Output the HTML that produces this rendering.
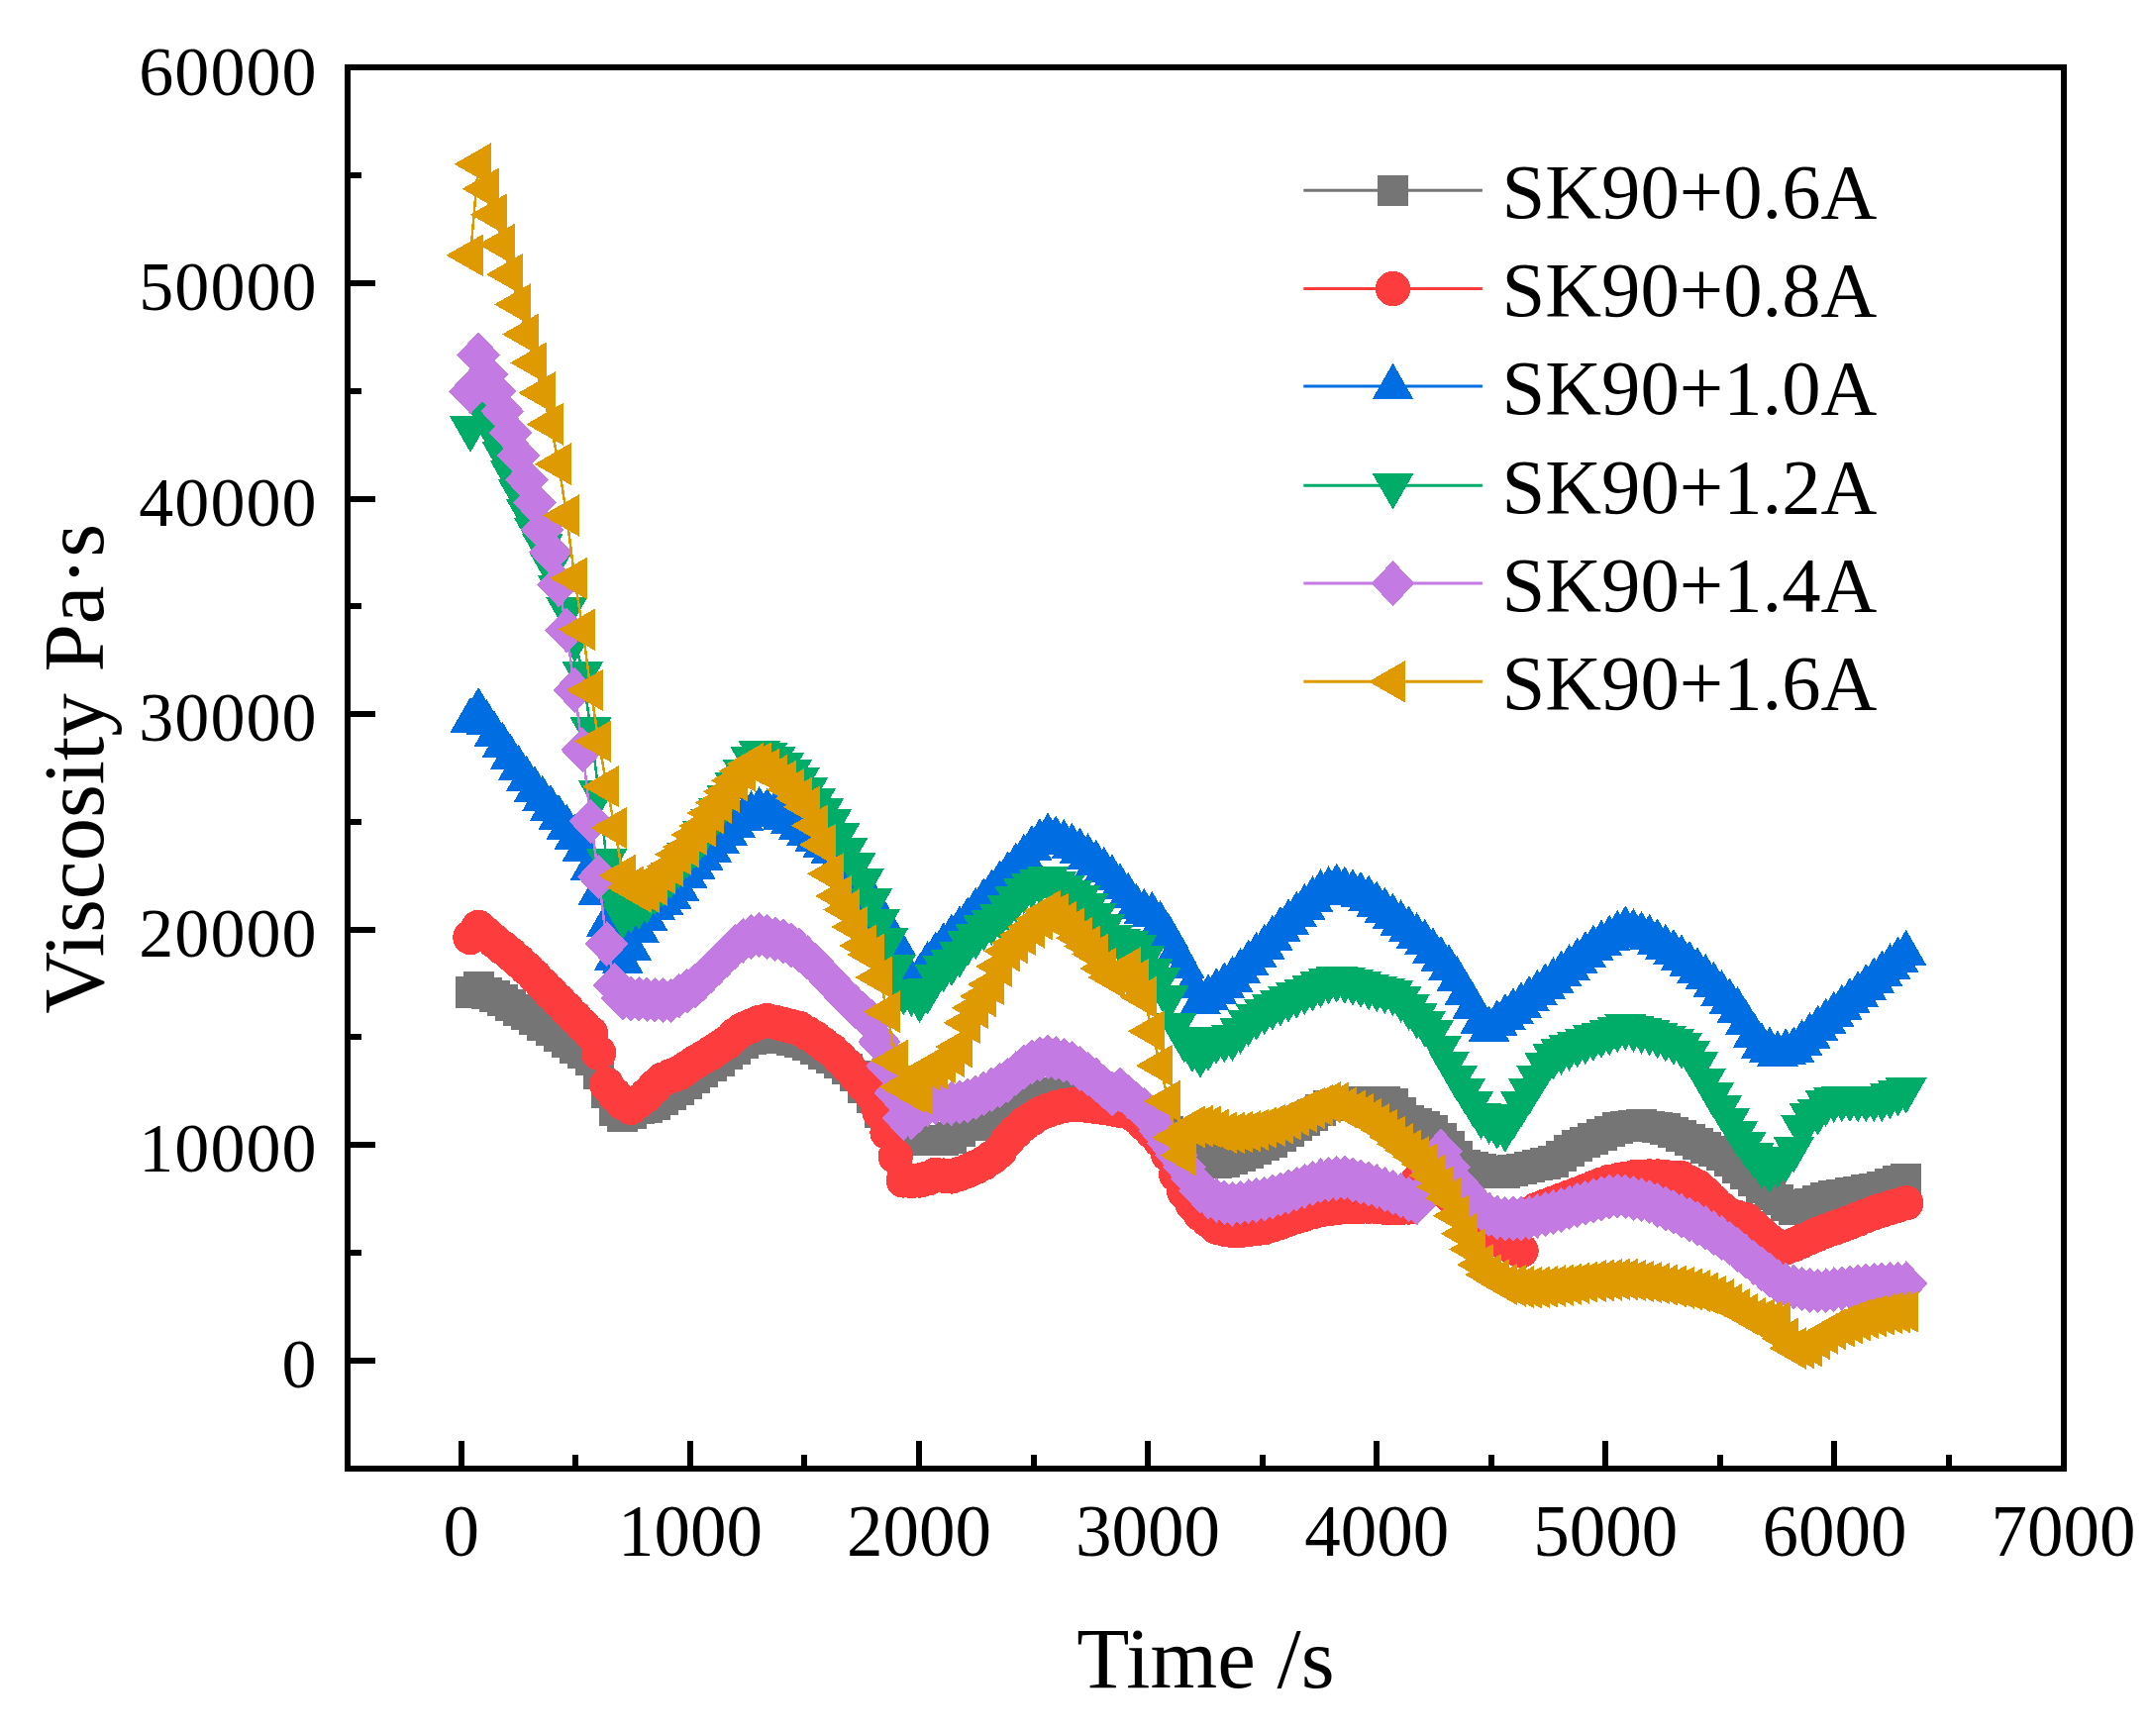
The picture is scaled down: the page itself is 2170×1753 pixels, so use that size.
<!DOCTYPE html>
<html lang="en">
<head>
<meta charset="utf-8">
<title>Viscosity vs Time</title>
<style>
html,body{margin:0;padding:0;background:#fff;}
body{width:2170px;height:1753px;overflow:hidden;}
svg{display:block;}
text{font-family:"Liberation Serif",serif;fill:#000;}
.tk{font-size:73px;}
.ty{font-size:70px;letter-spacing:1.1px;}
.tt{font-size:87px;}
.lg{font-size:78.7px;}
.ax{stroke:#000;stroke-width:6;fill:none;}
</style>
</head>
<body>
<svg width="2170" height="1753" viewBox="0 0 2170 1753" shape-rendering="crispEdges">
<rect width="2170" height="1753" fill="#fff"/>
<defs>
<marker id="m-gray" markerUnits="userSpaceOnUse" markerWidth="60" markerHeight="60" refX="0" refY="0" viewBox="-30 -30 60 60" orient="0" overflow="visible"><g fill="#757575" stroke="none"><rect x="-15.5" y="-15.8" width="31" height="31.6"/></g></marker>
<marker id="m-red" markerUnits="userSpaceOnUse" markerWidth="60" markerHeight="60" refX="0" refY="0" viewBox="-30 -30 60 60" orient="0" overflow="visible"><g fill="#FD3D3D" stroke="none"><circle r="17.7"/></g></marker>
<marker id="m-blue" markerUnits="userSpaceOnUse" markerWidth="60" markerHeight="60" refX="0" refY="0" viewBox="-30 -30 60 60" orient="0" overflow="visible"><g fill="#006EE3" stroke="none"><path d="M0-23.4 21 13.2H-21Z"/></g></marker>
<marker id="m-green" markerUnits="userSpaceOnUse" markerWidth="60" markerHeight="60" refX="0" refY="0" viewBox="-30 -30 60 60" orient="0" overflow="visible"><g fill="#00AD68" stroke="none"><path d="M0 24.3 21-12.3H-21Z"/></g></marker>
<marker id="m-purple" markerUnits="userSpaceOnUse" markerWidth="60" markerHeight="60" refX="0" refY="0" viewBox="-30 -30 60 60" orient="0" overflow="visible"><g fill="#C37AE2" stroke="none"><path d="M0-22.9 21.9 0 0 22.9-21.9 0Z"/></g></marker>
<marker id="m-orange" markerUnits="userSpaceOnUse" markerWidth="60" markerHeight="60" refX="0" refY="0" viewBox="-30 -30 60 60" orient="0" overflow="visible"><g fill="#DE9A00" stroke="none"><path d="M-24.6 0 12.6-21.3V21.3Z"/></g></marker>
</defs>
<g fill="none" stroke-width="2.5" stroke-linejoin="round">
<polyline stroke="#757575" marker-start="url(#m-gray)" marker-mid="url(#m-gray)" marker-end="url(#m-gray)" points="475,1002 483.1,996.7 491.2,1002.8 499.3,1006.3 507.4,1010.3 515.5,1015 523.6,1020.1 531.7,1024.5 539.8,1029.7 547.9,1034.8 556,1040 564.1,1046.1 572.2,1052.1 580.3,1058.2 588.4,1063.3 596.5,1070.3 604.6,1084.1 612.7,1103.1 620.8,1121.2 628.9,1127.3 637,1124.7 645.1,1119.5 653.2,1118.6 661.3,1115.2 669.4,1110 677.5,1105.7 685.6,1100.5 693.7,1094.5 701.8,1088.4 709.9,1082.3 718,1076.2 726.1,1071 734.2,1064.1 742.3,1058.9 750.4,1053.7 758.5,1049.4 766.6,1048.6 774.7,1047.6 782.8,1047.4 790.9,1047.8 799,1049.9 807.1,1052 815.2,1055.4 823.3,1058.9 831.4,1064.1 839.5,1068.4 847.6,1073.6 855.7,1079.6 863.8,1086.6 871.9,1098.7 880,1108.5 888,1123 896.1,1136 904.2,1145.5 912.3,1150 920.4,1151.5 928.5,1151.5 936.6,1151.5 944.7,1151.5 952.8,1151.4 960.9,1148.8 969,1141.9 977.1,1136.7 985.2,1136.1 993.3,1135.5 1001.4,1134.2 1009.5,1129.5 1017.6,1124.9 1025.7,1120.2 1033.8,1115.5 1041.9,1111.4 1050,1108.7 1058.1,1106 1066.2,1103.3 1074.3,1102.6 1082.4,1103.9 1090.5,1105.1 1098.6,1106.3 1106.7,1107.5 1114.8,1109.7 1122.9,1112.5 1131,1115.4 1139.1,1118.2 1147.2,1121 1155.3,1125.7 1163.4,1131.4 1171.5,1137.1 1179.6,1142.7 1187.7,1148.4 1195.8,1154.6 1203.9,1161.1 1212,1167.6 1220.1,1171.5 1228.2,1173.9 1236.3,1173.5 1244.4,1170.7 1252.5,1167.7 1260.6,1164 1268.7,1160.3 1276.8,1156.6 1284.9,1152.8 1293,1147.4 1301.1,1142 1309.2,1136.6 1317.3,1131.2 1325.4,1126.2 1333.5,1121.2 1341.6,1116.7 1349.7,1115.7 1357.8,1114.8 1365.9,1113.8 1374,1112.8 1382.1,1112.9 1390.2,1113.1 1398.3,1113.2 1406.4,1115 1414.5,1123.5 1422.6,1131.5 1430.7,1134.6 1438.8,1137.6 1446.9,1141.8 1455,1149.9 1463.1,1158.1 1471.2,1167.5 1479.3,1176.9 1487.4,1179.1 1495.5,1180.8 1503.6,1182.5 1511.7,1184.3 1519.8,1183.9 1527.9,1182.1 1536,1180.3 1544.1,1178.5 1552.2,1176.7 1560.3,1174.9 1568.4,1173.1 1576.5,1167.6 1584.6,1162 1592.7,1156.8 1600.8,1153.3 1608.9,1149.8 1617,1146.2 1625.1,1142.7 1633.2,1139.1 1641.3,1137.6 1649.4,1136.4 1657.5,1136 1665.6,1137.4 1673.7,1138.7 1681.8,1140.2 1689.9,1143.4 1697.9,1146.8 1706,1150.9 1714.1,1154.9 1722.2,1158.8 1730.3,1162.7 1738.4,1166.6 1746.5,1172.7 1754.6,1178.8 1762.7,1185.1 1770.8,1192.2 1778.9,1199.4 1787,1206.6 1795.1,1211.7 1803.2,1216.8 1811.3,1220.9 1819.4,1218.1 1827.5,1215.4 1835.6,1212.7 1843.7,1210 1851.8,1207.5 1859.9,1206.4 1868,1205.2 1876.1,1203.7 1884.2,1202.1 1892.3,1200.5 1900.4,1198.7 1908.5,1195.7 1916.6,1192.6 1924.7,1190.4"/>
<polyline stroke="#FD3D3D" marker-start="url(#m-red)" marker-mid="url(#m-red)" marker-end="url(#m-red)" points="475,946.5 483.1,936.5 491.2,943.5 499.3,950.5 507.4,956.9 515.5,963.4 523.6,970.5 531.7,977.8 539.8,985.7 547.9,994 556,1002.3 564.1,1010.6 572.2,1018.8 580.3,1027.1 588.4,1035.4 596.5,1043.4 604.6,1063.3 612.7,1095.3 620.8,1105.6 628.9,1113.4 637,1118.2 645.1,1112 653.2,1105.6 661.3,1097 669.4,1090 677.5,1086.5 685.6,1083.5 693.7,1078.2 701.8,1073 709.9,1068.1 718,1063.2 726.1,1057.9 734.2,1052.6 742.3,1045 750.4,1039.3 758.5,1035.9 766.6,1032.6 774.7,1030.5 782.8,1032.4 790.9,1034.4 799,1036.3 807.1,1038.5 815.2,1043.4 823.3,1048.2 831.4,1054.3 839.5,1060.3 847.6,1068.1 855.7,1076.2 863.8,1085.6 871.9,1095.5 880,1105 888,1122.8 896.1,1143.5 904.2,1167.7 912.3,1191.9 920.4,1192.5 928.5,1192 936.6,1190 944.7,1186.3 952.8,1187.1 960.9,1187.9 969,1185.4 977.1,1182.4 985.2,1178.6 993.3,1174.5 1001.4,1169 1009.5,1162.5 1017.6,1151.4 1025.7,1142.7 1033.8,1135.3 1041.9,1129.7 1050,1124.5 1058.1,1121.4 1066.2,1118.7 1074.3,1116.4 1082.4,1115.7 1090.5,1115.4 1098.6,1116.5 1106.7,1117.6 1114.8,1118.7 1122.9,1119.9 1131,1121.3 1139.1,1122.7 1147.2,1127.4 1155.3,1134.8 1163.4,1142.7 1171.5,1151.6 1179.6,1165.7 1187.7,1186 1195.8,1203.6 1203.9,1215.6 1212,1225.7 1220.1,1232.4 1228.2,1239.1 1236.3,1241.1 1244.4,1242.4 1252.5,1242.5 1260.6,1241.5 1268.7,1240.6 1276.8,1239.6 1284.9,1237 1293,1234.2 1301.1,1231.3 1309.2,1228.7 1317.3,1226.3 1325.4,1223.9 1333.5,1221.8 1341.6,1220.7 1349.7,1219.7 1357.8,1218.6 1365.9,1218.4 1374,1218.2 1382.1,1218.1 1390.2,1218.4 1398.3,1219.2 1406.4,1219.7 1414.5,1219.5 1422.6,1219 1430.7,1193.8 1438.8,1190 1446.9,1194 1455,1198 1463.1,1206 1471.2,1216 1479.3,1226.5 1487.4,1232 1495.5,1237.5 1503.6,1243 1511.7,1250 1519.8,1255.3 1527.9,1260 1536,1263 1544.1,1225.7 1552.2,1221.2 1560.3,1218.1 1568.4,1215.1 1576.5,1212 1584.6,1209 1592.7,1206 1600.8,1202.8 1608.9,1199.5 1617,1196.2 1625.1,1193.4 1633.2,1191.9 1641.3,1190.3 1649.4,1188.8 1657.5,1188.4 1665.6,1188 1673.7,1188 1681.8,1188.6 1689.9,1189.2 1697.9,1189.8 1706,1194 1714.1,1198.4 1722.2,1205.2 1730.3,1213.5 1738.4,1221 1746.5,1227.1 1754.6,1229.3 1762.7,1231.4 1770.8,1238.7 1778.9,1246.3 1787,1253.2 1795.1,1258.1 1803.2,1259.9 1811.3,1256.9 1819.4,1253.4 1827.5,1249.8 1835.6,1246.3 1843.7,1243.1 1851.8,1240.2 1859.9,1237.3 1868,1234.3 1876.1,1231.1 1884.2,1227.9 1892.3,1224.7 1900.4,1222.1 1908.5,1219.6 1916.6,1217.1 1924.7,1214.8"/>
<polyline stroke="#006EE3" marker-start="url(#m-blue)" marker-mid="url(#m-blue)" marker-end="url(#m-blue)" points="475,727.3 483.1,717.2 491.2,729 499.3,741.1 507.4,752.1 515.5,764.2 523.6,775.1 531.7,786.1 539.8,796.4 547.9,806.2 556,815.4 564.1,825.2 572.2,835 580.3,844.8 588.4,856.9 596.5,876 604.6,900.5 612.7,932.8 620.8,966.6 628.9,970 637,956.6 645.1,939.3 653.2,926.4 661.3,916 669.4,910.8 677.5,904.8 685.6,897 693.7,883.9 701.8,874.9 709.9,866 718,857.4 726.1,849 734.2,840.9 742.3,833 750.4,826.1 758.5,821.5 766.6,817.5 774.7,819.1 782.8,820.9 790.9,824.7 799,828.5 807.1,834.4 815.2,840.4 823.3,846.7 831.4,853 839.5,858.6 847.6,867.5 855.7,876.3 863.8,885.2 871.9,895.2 880,908.7 888,923.5 896.1,946.8 904.2,951.8 912.3,976.8 920.4,995.3 928.5,986.2 936.6,973.4 944.7,964 952.8,954.5 960.9,946 969,937.9 977.1,928.9 985.2,919.1 993.3,909.7 1001.4,900.9 1009.5,891.9 1017.6,883 1025.7,874.1 1033.8,865.2 1041.9,856.3 1050,849.3 1058.1,843.7 1066.2,846.8 1074.3,850.1 1082.4,854.1 1090.5,859 1098.6,864.6 1106.7,870.9 1114.8,878.2 1122.9,885.8 1131,894.8 1139.1,904 1147.2,914.8 1155.3,920.2 1163.4,923.3 1171.5,932.4 1179.6,944.8 1187.7,960.3 1195.8,975.3 1203.9,995 1212,1011 1220.1,1006.6 1228.2,1000.5 1236.3,994.8 1244.4,988.4 1252.5,980.3 1260.6,972.2 1268.7,964.1 1276.8,956 1284.9,947.1 1293,938.2 1301.1,930.7 1309.2,923.1 1317.3,915.4 1325.4,907.7 1333.5,900.8 1341.6,897.7 1349.7,894.9 1357.8,897.7 1365.9,900.5 1374,903.2 1382.1,906.9 1390.2,912.9 1398.3,919 1406.4,925.1 1414.5,931.5 1422.6,938 1430.7,944.5 1438.8,951.2 1446.9,959.7 1455,968.2 1463.1,976.7 1471.2,988.3 1479.3,1002 1487.4,1015.7 1495.5,1030.4 1503.6,1038.8 1511.7,1032.7 1519.8,1026.6 1527.9,1020.5 1536,1014.4 1544.1,1008.3 1552.2,1002.3 1560.3,995.8 1568.4,989.4 1576.5,982.9 1584.6,976.4 1592.7,970 1600.8,963.5 1608.9,957 1617,951.9 1625.1,947 1633.2,942.1 1641.3,937.8 1649.4,940.6 1657.5,943.4 1665.6,946.2 1673.7,950.8 1681.8,956 1689.9,961.3 1697.9,966.7 1706,973.2 1714.1,979.7 1722.2,986.2 1730.3,993.9 1738.4,1002.4 1746.5,1010.9 1754.6,1019.5 1762.7,1032.1 1770.8,1044.7 1778.9,1055.8 1787,1059.9 1795.1,1063.7 1803.2,1061.6 1811.3,1059.6 1819.4,1052.7 1827.5,1045.4 1835.6,1038.1 1843.7,1031 1851.8,1024.1 1859.9,1017.2 1868,1010.3 1876.1,1003.5 1884.2,996.6 1892.3,989.7 1900.4,982.8 1908.5,975.8 1916.6,968.8 1924.7,962.1"/>
<polyline stroke="#00AD68" marker-start="url(#m-green)" marker-mid="url(#m-green)" marker-end="url(#m-green)" points="475,432.6 483.1,405 491.2,420 499.3,439 507.4,458 515.5,477 523.6,496.2 531.7,516 539.8,535 547.9,551 556,571.3 564.1,593.8 572.2,615.4 580.3,645 588.4,680.2 596.5,736.8 604.6,800.1 612.7,869.2 620.8,905 628.9,924.4 637,918.3 645.1,914.9 653.2,908.8 661.3,900.3 669.4,891.9 677.5,883.4 685.6,873.5 693.7,863.3 701.8,853.2 709.9,841.5 718,829.8 726.1,818.1 734.2,805.2 742.3,792 750.4,778.9 758.5,766.7 766.6,760.7 774.7,762 782.8,765.9 790.9,772.8 799,779.7 807.1,786.9 815.2,797.6 823.3,808.1 831.4,818.1 839.5,828.9 847.6,843.4 855.7,858 863.8,872.9 871.9,889.2 880,909.8 888,930.3 896.1,949.8 904.2,976 912.3,1001.2 920.4,1002.9 928.5,1008.9 936.6,1000.3 944.7,986.5 952.8,977.8 960.9,971.8 969,963.1 977.1,951.9 985.2,945 993.3,936.4 1001.4,931 1009.5,924.9 1017.6,916.3 1025.7,907.8 1033.8,899.3 1041.9,894 1050,890.2 1058.1,887.4 1066.2,892 1074.3,896.6 1082.4,901.2 1090.5,906.1 1098.6,914.1 1106.7,924.6 1114.8,935.8 1122.9,946.8 1131,950.1 1139.1,952.1 1147.2,956.4 1155.3,967.2 1163.4,980.4 1171.5,989.1 1179.6,1007.6 1187.7,1035 1195.8,1049.4 1203.9,1058.7 1212,1064.4 1220.1,1057.5 1228.2,1050.5 1236.3,1049.1 1244.4,1047.7 1252.5,1040.6 1260.6,1032.6 1268.7,1026.4 1276.8,1021 1284.9,1016.4 1293,1012.3 1301.1,1008.3 1309.2,1004.6 1317.3,1001 1325.4,997.4 1333.5,993.8 1341.6,990.2 1349.7,988.5 1357.8,989.6 1365.9,991.5 1374,993.8 1382.1,996 1390.2,998 1398.3,999.9 1406.4,1001.9 1414.5,1008.4 1422.6,1016.8 1430.7,1025.3 1438.8,1033.7 1446.9,1042.7 1455,1058.3 1463.1,1073.9 1471.2,1087.9 1479.3,1100.9 1487.4,1113.8 1495.5,1126.5 1503.6,1131.5 1511.7,1136.5 1519.8,1139.6 1527.9,1127.1 1536,1114.5 1544.1,1101.7 1552.2,1088.5 1560.3,1075.3 1568.4,1066.4 1576.5,1061.7 1584.6,1057.5 1592.7,1054.2 1600.8,1051 1608.9,1047.7 1617,1044.8 1625.1,1042 1633.2,1039.1 1641.3,1036.6 1649.4,1038.5 1657.5,1040.4 1665.6,1042.2 1673.7,1045.1 1681.8,1048.3 1689.9,1051.5 1697.9,1055.4 1706,1063.5 1714.1,1074.6 1722.2,1090.8 1730.3,1105.1 1738.4,1118.1 1746.5,1131 1754.6,1143.9 1762.7,1155 1770.8,1166.2 1778.9,1176.1 1787,1180.8 1795.1,1175.7 1803.2,1170 1811.3,1159.9 1819.4,1138.7 1827.5,1126.2 1835.6,1122.3 1843.7,1113.6 1851.8,1109.9 1859.9,1109 1868,1109 1876.1,1109 1884.2,1109 1892.3,1109 1900.4,1108.9 1908.5,1106 1916.6,1103.2 1924.7,1100.5"/>
<polyline stroke="#C37AE2" marker-start="url(#m-purple)" marker-mid="url(#m-purple)" marker-end="url(#m-purple)" points="475,395.2 483.1,358.3 491.2,377.9 499.3,395.2 507.4,415.4 515.5,437 523.6,460 531.7,484.5 539.8,507.5 547.9,534.9 556,557.9 564.1,590.3 572.2,636.4 580.3,696.9 588.4,757.4 596.5,829.4 604.6,885.5 612.7,953.2 620.8,995 628.9,1008 637,1008.4 645.1,1008.8 653.2,1009.2 661.3,1009.7 669.4,1010.1 677.5,1010.5 685.6,1005.6 693.7,1000.7 701.8,995.8 709.9,988.4 718,980.3 726.1,972.2 734.2,964.1 742.3,956 750.4,949.8 758.5,946 766.6,944 774.7,946.1 782.8,948.2 790.9,950.5 799,954.6 807.1,959.7 815.2,966.9 823.3,974.7 831.4,982.8 839.5,991.5 847.6,1000.4 855.7,1008.6 863.8,1016.5 871.9,1023.8 880,1031.2 888,1052 896.1,1076.1 904.2,1103.8 912.3,1129 920.4,1128.6 928.5,1120.8 936.6,1115.6 944.7,1113 952.8,1113.7 960.9,1114.3 969,1113 977.1,1111.5 985.2,1108.2 993.3,1104.4 1001.4,1100.3 1009.5,1096.1 1017.6,1090.8 1025.7,1084.2 1033.8,1077.6 1041.9,1072.7 1050,1069.6 1058.1,1067.2 1066.2,1068.9 1074.3,1070.7 1082.4,1073.6 1090.5,1079.1 1098.6,1084.5 1106.7,1090.4 1114.8,1097.8 1122.9,1104.6 1131,1100.3 1139.1,1107.3 1147.2,1114.1 1155.3,1120.8 1163.4,1130.4 1171.5,1142.4 1179.6,1154.4 1187.7,1166.4 1195.8,1178.5 1203.9,1190.5 1212,1202.5 1220.1,1208.4 1228.2,1212 1236.3,1214.2 1244.4,1215.8 1252.5,1214.5 1260.6,1213.3 1268.7,1212 1276.8,1210.8 1284.9,1208.5 1293,1206.1 1301.1,1203.6 1309.2,1200.9 1317.3,1197.9 1325.4,1195 1333.5,1192.3 1341.6,1191.1 1349.7,1189.9 1357.8,1189.3 1365.9,1191.4 1374,1193.4 1382.1,1195.5 1390.2,1198 1398.3,1201.1 1406.4,1204.1 1414.5,1207.3 1422.6,1210.9 1430.7,1214.5 1438.8,1203.2 1446.9,1182.5 1455,1162.6 1463.1,1178.4 1471.2,1193.9 1479.3,1203 1487.4,1212.1 1495.5,1220.5 1503.6,1226.4 1511.7,1229.5 1519.8,1230.7 1527.9,1230.6 1536,1230.5 1544.1,1229.9 1552.2,1228 1560.3,1226.1 1568.4,1224.2 1576.5,1221.9 1584.6,1219.4 1592.7,1217 1600.8,1214.7 1608.9,1212.6 1617,1210.4 1625.1,1208.6 1633.2,1207.7 1641.3,1208.3 1649.4,1209.9 1657.5,1211.5 1665.6,1213.5 1673.7,1217 1681.8,1220.4 1689.9,1223.9 1697.9,1227.7 1706,1231.5 1714.1,1235.4 1722.2,1239.9 1730.3,1245 1738.4,1250.1 1746.5,1255.5 1754.6,1262 1762.7,1268.5 1770.8,1275 1778.9,1281.2 1787,1287.5 1795.1,1293.8 1803.2,1297.5 1811.3,1299.5 1819.4,1301.5 1827.5,1303.1 1835.6,1303.5 1843.7,1303.2 1851.8,1302.1 1859.9,1301.1 1868,1300.1 1876.1,1299.3 1884.2,1298.5 1892.3,1297.6 1900.4,1297.3 1908.5,1296.9 1916.6,1296.5 1924.7,1296.2"/>
<polyline stroke="#DE9A00" marker-start="url(#m-orange)" marker-mid="url(#m-orange)" marker-end="url(#m-orange)" points="475,257.8 483.1,165.7 491.2,190.7 499.3,216.6 507.4,246.9 515.5,277.1 523.6,307.4 531.7,337.6 539.8,366.4 547.9,396.7 556,428.3 564.1,468.7 572.2,520.5 580.3,583.9 588.4,635.8 596.5,696.9 604.6,748.7 612.7,794.2 620.8,836 628.9,884.1 637,896 645.1,900.5 653.2,900.6 661.3,893.8 669.4,881.7 677.5,874.6 685.6,862.7 693.7,855.3 701.8,842.9 709.9,834 718,820.9 726.1,810.6 734.2,799.4 742.3,788.2 750.4,778.6 758.5,771.3 766.6,770.5 774.7,776.7 782.8,783 790.9,789.2 799,797.5 807.1,806.1 815.2,814.7 823.3,833.6 831.4,853 839.5,882.4 847.6,904.9 855.7,918.7 863.8,936 871.9,955 880,964 888,987 896.1,1021.7 904.2,1071 912.3,1097.7 920.4,1102 928.5,1104.4 936.6,1080 944.7,1079 952.8,1073 960.9,1066.4 969,1057 977.1,1032.8 985.2,1017.7 993.3,1006 1001.4,994 1009.5,975.9 1017.6,960.4 1025.7,952.3 1033.8,944.2 1041.9,936.2 1050,928.1 1058.1,920.2 1066.2,923.1 1074.3,931.2 1082.4,937.7 1090.5,947.3 1098.6,955.6 1106.7,963.7 1114.8,977.9 1122.9,986.9 1131,984.9 1139.1,977.6 1147.2,989.3 1155.3,1006.9 1163.4,1041.4 1171.5,1076.1 1179.6,1111.8 1187.7,1148.6 1195.8,1166.6 1203.9,1137.9 1212,1137.1 1220.1,1137.8 1228.2,1140.8 1236.3,1143.7 1244.4,1143.9 1252.5,1143.1 1260.6,1142.3 1268.7,1140.9 1276.8,1138.6 1284.9,1136.4 1293,1134 1301.1,1130.2 1309.2,1126.3 1317.3,1122.5 1325.4,1119.2 1333.5,1116.2 1341.6,1113.2 1349.7,1113.5 1357.8,1118.4 1365.9,1122 1374,1125.4 1382.1,1130.3 1390.2,1135.5 1398.3,1141.1 1406.4,1148 1414.5,1155.2 1422.6,1161.7 1430.7,1168.3 1438.8,1175.3 1446.9,1186.9 1455,1198.5 1463.1,1209.8 1471.2,1227.6 1479.3,1245.8 1487.4,1261.5 1495.5,1277 1503.6,1287.1 1511.7,1292.1 1519.8,1296.9 1527.9,1298.3 1536,1299.6 1544.1,1300.2 1552.2,1299.9 1560.3,1299.3 1568.4,1298.5 1576.5,1297.7 1584.6,1296.8 1592.7,1295.7 1600.8,1294.6 1608.9,1293.5 1617,1292.9 1625.1,1292.4 1633.2,1291.9 1641.3,1292 1649.4,1293 1657.5,1293.9 1665.6,1294.9 1673.7,1296.2 1681.8,1297.5 1689.9,1298.8 1697.9,1300.3 1706,1301.9 1714.1,1303.5 1722.2,1305.9 1730.3,1309.1 1738.4,1312.4 1746.5,1317.3 1754.6,1322.1 1762.7,1327 1770.8,1331.1 1778.9,1332.7 1787,1334.4 1795.1,1335.8 1803.2,1351.8 1811.3,1361.5 1819.4,1361.1 1827.5,1359.3 1835.6,1352.3 1843.7,1346.7 1851.8,1342.3 1859.9,1339.1 1868,1336.1 1876.1,1333.1 1884.2,1330.8 1892.3,1329.1 1900.4,1327.4 1908.5,1325.9 1916.6,1325.2 1924.7,1324.6"/>
</g>
<g class="ax">
<path d="M465.8 1483 v-28 M581.4 1483 v-14 M696.9 1483 v-28 M812.4 1483 v-14 M928 1483 v-28 M1043.5 1483 v-14 M1159.1 1483 v-28 M1274.6 1483 v-14 M1390.2 1483 v-28 M1505.8 1483 v-14 M1621.3 1483 v-28 M1736.8 1483 v-14 M1852.4 1483 v-28 M1967.9 1483 v-14 M351 1373.7 h28 M351 1264.9 h14 M351 1156.1 h28 M351 1047.4 h14 M351 938.6 h28 M351 829.8 h14 M351 721 h28 M351 612.2 h14 M351 503.5 h28 M351 394.7 h14 M351 285.9 h28 M351 177.1 h14"/>
<rect x="351" y="67.5" width="1732.5" height="1415.5"/>
</g>
<g class="tk" text-anchor="middle">
<text x="465.8" y="1570.5">0</text>
<text x="696.9" y="1570.5">1000</text>
<text x="928" y="1570.5">2000</text>
<text x="1159.1" y="1570.5">3000</text>
<text x="1390.2" y="1570.5">4000</text>
<text x="1621.3" y="1570.5">5000</text>
<text x="1852.4" y="1570.5">6000</text>
<text x="2083.5" y="1570.5">7000</text>
</g>
<g class="ty" text-anchor="end">
<text x="320.7" y="1400.9">0</text>
<text x="320.7" y="1183.3">10000</text>
<text x="320.7" y="965.8">20000</text>
<text x="320.7" y="748.2">30000</text>
<text x="320.7" y="530.7">40000</text>
<text x="320.7" y="313.1">50000</text>
<text x="320.7" y="95.5">60000</text>
</g>
<text class="tt" text-anchor="middle" x="1217.4" y="1704">Time /s</text>
<text class="tt" text-anchor="middle" transform="translate(104 776.3) rotate(-90)">Viscosity Pa·s</text>
<g>
<path d="M1316.3 192.3 H1496.9" stroke="#757575" stroke-width="3" fill="none" shape-rendering="geometricPrecision"/><g transform="translate(1406.5 192.3)" fill="#757575"><rect x="-15.5" y="-15.8" width="31" height="31.6"/></g><text class="lg" x="1516.5" y="219.8">SK90+0.6A</text>
<path d="M1316.3 291.5 H1496.9" stroke="#FD3D3D" stroke-width="3" fill="none" shape-rendering="geometricPrecision"/><g transform="translate(1406.5 291.5)" fill="#FD3D3D"><circle r="17.7"/></g><text class="lg" x="1516.5" y="319">SK90+0.8A</text>
<path d="M1316.3 390.1 H1496.9" stroke="#006EE3" stroke-width="3" fill="none" shape-rendering="geometricPrecision"/><g transform="translate(1406.5 390.1)" fill="#006EE3"><path d="M0-23.4 21 13.2H-21Z"/></g><text class="lg" x="1516.5" y="417.6">SK90+1.0A</text>
<path d="M1316.3 490.2 H1496.9" stroke="#00AD68" stroke-width="3" fill="none" shape-rendering="geometricPrecision"/><g transform="translate(1406.5 490.2)" fill="#00AD68"><path d="M0 24.3 21-12.3H-21Z"/></g><text class="lg" x="1516.5" y="517.7">SK90+1.2A</text>
<path d="M1316.3 589.1 H1496.9" stroke="#C37AE2" stroke-width="3" fill="none" shape-rendering="geometricPrecision"/><g transform="translate(1406.5 589.1)" fill="#C37AE2"><path d="M0-22.9 21.9 0 0 22.9-21.9 0Z"/></g><text class="lg" x="1516.5" y="616.6">SK90+1.4A</text>
<path d="M1316.3 688.3 H1496.9" stroke="#DE9A00" stroke-width="3" fill="none" shape-rendering="geometricPrecision"/><g transform="translate(1406.5 688.3)" fill="#DE9A00"><path d="M-24.6 0 12.6-21.3V21.3Z"/></g><text class="lg" x="1516.5" y="715.8">SK90+1.6A</text>
</g>
</svg>
</body>
</html>
